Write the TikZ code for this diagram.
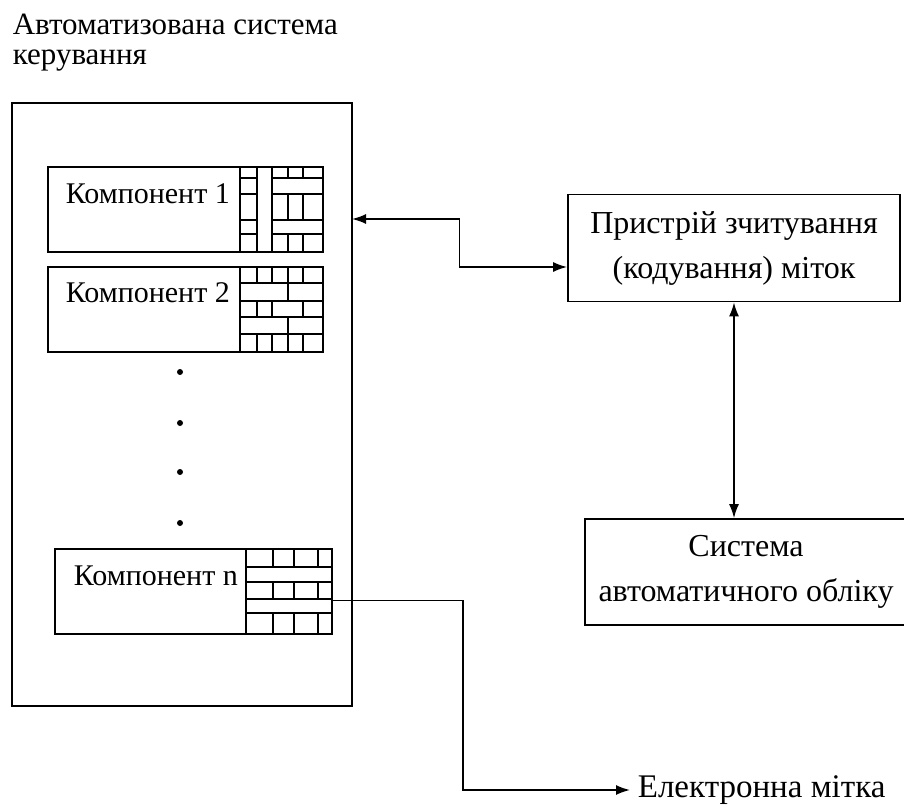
\documentclass[tikz,border=0pt]{standalone}
\usepackage{fontspec}
\setmainfont{Liberation Serif}
\usetikzlibrary{positioning,calc,arrows.meta}

\begin{document}
\begin{tikzpicture}[
    x=1pt, y=-1pt,
    node distance=15pt,
    line width=1.7pt,
    txt/.style={font=\fontsize{30}{45}\selectfont},
    box/.style={draw, font=\fontsize{32}{45}\selectfont, align=center, inner sep=0pt},
    comp/.style={draw, minimum height=85pt, inner sep=0pt, outer sep=0pt},
    arr/.style={{Latex[length=14pt,width=10pt]}-{Latex[length=14pt,width=10pt]}}
]
\useasboundingbox (0,0) rectangle (904,811);
% control system
\node[anchor=north west, inner sep=0pt, align=left, font=\fontsize{31}{30}\selectfont] (title) at (12,13) {Автоматизована система\\керування};
\node[draw, anchor=north west, minimum width=340pt, minimum height=603pt, inner sep=0pt, outer sep=0pt] (acs) at (12,103) {};
% components
\node[comp, minimum width=275pt, anchor=north west] (comp1) at (48,167) {};
\node[comp, minimum width=275pt, below=of comp1] (comp2) {};
\node[comp, minimum width=277pt, anchor=north west] (compn) at (55,549) {};
\node[txt, anchor=base west, inner sep=0pt] (c1label) at ([xshift=17pt, yshift=-36pt]comp1.north west) {Компонент 1};
\node[txt, anchor=base west, inner sep=0pt] (c2label) at ([xshift=17pt, yshift=-35pt]comp2.north west) {Компонент 2};
\node[txt, anchor=base west, inner sep=0pt] (cnlabel) at ([xshift=18pt, yshift=-36pt]compn.north west) {Компонент n};
\begin{scope}[shift={(comp1.north east)}]
  \draw (-83,0) -- (-83,85) (-66,0) -- (-66,85) (-51,0) -- (-51,85);
  \foreach \y in {11,27,53,67} \draw (-83,\y) -- (-66,\y) (-51,\y) -- (0,\y);
  \foreach \x in {-35,-20} \draw (\x,0) -- (\x,11) (\x,27) -- (\x,53) (\x,67) -- (\x,85);
\end{scope}
\begin{scope}[shift={(comp2.north east)}]
  \draw (-83,0) -- (-83,85);
  \foreach \y in {16,34,50,67} \draw (-83,\y) -- (0,\y);
  \foreach \x in {-66,-51,-35,-20} \draw (\x,0) -- (\x,16) (\x,67) -- (\x,85);
  \foreach \x in {-66,-51,-20} \draw (\x,34) -- (\x,50);
  \draw (-35,16) -- (-35,34) (-35,50) -- (-35,67);
\end{scope}
\begin{scope}[shift={(compn.north east)}]
  \draw (-86,0) -- (-86,85);
  \foreach \y in {18,33,50,64} \draw (-86,\y) -- (0,\y);
  \foreach \x in {-59,-38,-14} \draw (\x,0) -- (\x,18) (\x,33) -- (\x,50) (\x,64) -- (\x,85);
\end{scope}
\foreach \y in {372,423,472,523} \fill (180,\y) circle (3pt);
% reader and accounting
\node[box, minimum width=332pt, minimum height=107pt] (reader) at (734,248) {Пристрій зчитування\\(кодування) міток};
\node[box, minimum width=322pt, minimum height=106pt] (sys) at (746,572) {Система\\автоматичного обліку};
\node[anchor=west, inner sep=7pt, font=\fontsize{33}{45}\selectfont] (tag) at (630,790) {Електронна мітка};
% connectors
\coordinate (rout) at ([yshift=29pt]reader.west);
\coordinate (rin) at ([yshift=-19pt]reader.west);
\coordinate (midx) at ($(acs.east)!0.5!(reader.west)$);
\draw[arr] (acs.east |- rout) -| (midx |- rin) -- (rin);
\draw[arr] (reader.south) -- (reader.south |- sys.north);
\draw[-{Latex[length=14pt,width=10pt]}] ([yshift=-9pt]compn.east) -| ([xshift=-167pt]tag.west) -- (tag.west);
\end{tikzpicture}
\end{document}
